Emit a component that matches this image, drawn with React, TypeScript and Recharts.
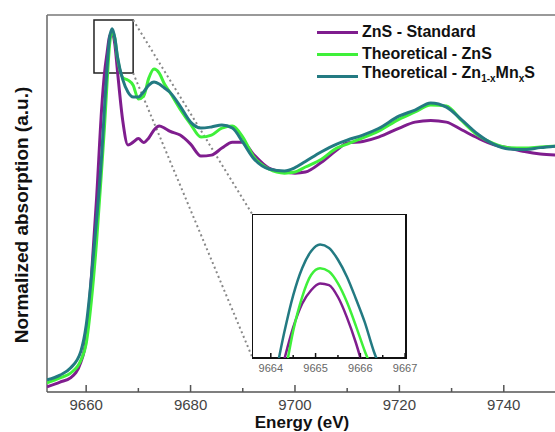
import { LineChart, Line, XAxis, YAxis, ReferenceLine, ReferenceArea } from "recharts"

// main spectrum (energy in eV, normalized absorption)
const energy = [
  9652.5, 9655, 9657, 9659, 9660, 9661, 9662, 9663, 9663.5, 9664, 9664.5, 9665, 9665.5, 9666,
  9667, 9668, 9669, 9670, 9671, 9672, 9673, 9674, 9675, 9676, 9678, 9680, 9682, 9684, 9686,
  9688, 9690, 9692, 9695, 9698, 9700, 9702, 9705, 9708, 9710, 9713, 9716, 9720, 9723, 9726,
  9729, 9732, 9735, 9738, 9741, 9744, 9747, 9750,
]
const znsStandard = [
  0.023, 0.045, 0.064, 0.136, 0.24, 0.522, 0.882, 1.299, 1.446, 1.54, 1.618, 1.632, 1.58, 1.459,
  1.235, 1.123, 1.136, 1.152, 1.134, 1.155, 1.191, 1.209, 1.2, 1.186, 1.168, 1.127, 1.073, 1.077,
  1.109, 1.136, 1.136, 1.082, 1.018, 1.0, 0.995, 1.0, 1.043, 1.1, 1.132, 1.139, 1.159, 1.2,
  1.227, 1.234, 1.227, 1.191, 1.155, 1.125, 1.109, 1.093, 1.082, 1.077,
]
const theoreticalZnS = [
  0.041, 0.064, 0.086, 0.145, 0.219, 0.414, 0.685, 1.023, 1.202, 1.404, 1.582, 1.639, 1.607, 1.52,
  1.43, 1.418, 1.395, 1.332, 1.345, 1.427, 1.468, 1.45, 1.4, 1.364, 1.286, 1.218, 1.159, 1.168,
  1.2, 1.209, 1.159, 1.073, 1.014, 0.995, 1.0, 1.023, 1.057, 1.109, 1.127, 1.155, 1.186, 1.241,
  1.273, 1.305, 1.3, 1.232, 1.168, 1.13, 1.111, 1.109, 1.114, 1.118,
]
const theoreticalZnMnS = [
  0.055, 0.077, 0.109, 0.186, 0.302, 0.52, 0.783, 1.088, 1.289, 1.474, 1.614, 1.652, 1.609, 1.524,
  1.421, 1.364, 1.341, 1.341, 1.364, 1.395, 1.409, 1.4, 1.382, 1.364, 1.3, 1.227, 1.2, 1.205,
  1.214, 1.2, 1.136, 1.064, 1.014, 1.005, 1.02, 1.048, 1.091, 1.127, 1.145, 1.168, 1.198, 1.255,
  1.282, 1.314, 1.295, 1.236, 1.173, 1.127, 1.105, 1.102, 1.111, 1.118,
]
const mainTicks = [9660, 9670, 9680, 9690, 9700, 9710, 9720, 9730, 9740]

// zoom on the white line peak
const insetEnergy = [
  9664.1, 9664.3, 9664.5, 9664.7, 9664.9, 9665.1, 9665.3, 9665.5, 9665.7, 9665.9, 9666.1, 9666.3, 9666.5,
]
const insetStandard = [1.561, 1.582, 1.601, 1.615, 1.623, 1.627, 1.626, 1.619, 1.607, 1.592, 1.574, 1.555, 1.535]
const insetZnS = [1.543, 1.571, 1.599, 1.619, 1.632, 1.636, 1.634, 1.627, 1.616, 1.602, 1.587, 1.574, 1.558]
const insetZnMnS = [1.572, 1.598, 1.62, 1.636, 1.646, 1.65, 1.648, 1.641, 1.631, 1.618, 1.604, 1.587, 1.574]
const insetTicks = [9664, 9664.5, 9665, 9665.5, 9666, 9666.5, 9667]

const X_MIN = 9652.5
const X_MAX = 9750
const Y_MAX = 1.714
const IN_X = [9663.58, 9667.02]
const IN_Y = [1.583, 1.668]

const PURPLE = "#7f1d8e"
const GREEN = "#3ff03a"
const TEAL = "#237a82"
const FONT = "'Liberation Sans', Arial, sans-serif"

const mainData = energy.map((e, i) => ({
  energy: e,
  standard: znsStandard[i],
  zns: theoreticalZnS[i],
  znmns: theoreticalZnMnS[i],
}))

const insetData = insetEnergy.map((e, i) => ({
  energy: e,
  standard: insetStandard[i],
  zns: insetZnS[i],
  znmns: insetZnMnS[i],
}))

function MainTick(props: any) {
  const { x, y, payload } = props
  const major = payload.value % 20 === 0
  return (
    <g>
      <line x1={x} x2={x} y1={y} y2={y - (major ? 7 : 4)} stroke="#555" strokeWidth={1.5} />
      {major && (
        <text x={x} y={y + 18} textAnchor="middle" fontSize={15} fill="#444" fontFamily={FONT}>
          {payload.value}
        </text>
      )}
    </g>
  )
}

function InsetTick(props: any) {
  const { x, y, payload } = props
  const major = Number.isInteger(payload.value)
  return (
    <g>
      <line x1={x} x2={x} y1={y} y2={y - (major ? 5 : 3)} stroke="#111" strokeWidth={1.5} />
      {major && (
        <text x={x} y={y + 14} textAnchor="middle" fontSize={11} fill="#666" fontFamily={FONT}>
          {payload.value}
        </text>
      )}
    </g>
  )
}

const legendRows = [
  { color: PURPLE, label: <>ZnS - Standard</> },
  { color: GREEN, label: <>Theoretical - ZnS</> },
  {
    color: TEAL,
    label: (
      <>
        Theoretical - Zn<sub style={{ fontSize: 10 }}>1-x</sub>Mn<sub style={{ fontSize: 10 }}>x</sub>S
      </>
    ),
  },
]

export default function App() {
  return (
    <div
      style={{
        position: "absolute",
        left: 0,
        top: 0,
        width: 555,
        height: 432,
        overflow: "hidden",
        background: "#fff",
        fontFamily: FONT,
      }}
    >
      <LineChart width={565} height={432} data={mainData} margin={{ top: 15, right: 9, bottom: 0, left: 47 }}>
        <XAxis
          dataKey="energy"
          type="number"
          domain={[X_MIN, X_MAX]}
          allowDataOverflow
          ticks={mainTicks}
          interval={0}
          tick={MainTick}
          tickLine={false}
          tickSize={0}
          tickMargin={0}
          height={40}
          axisLine={{ stroke: "#555", strokeWidth: 1.5 }}
        />
        <YAxis hide domain={[0, Y_MAX]} allowDataOverflow />
        <ReferenceLine x={X_MIN} stroke="#666" strokeWidth={1.5} />
        <ReferenceLine y={Y_MAX} stroke="#777" strokeWidth={1.5} />
        <ReferenceLine
          segment={[{ x: 9669, y: 1.691 }, { x: 9691.8, y: 0.809 }]}
          stroke="#888"
          strokeWidth={2}
          strokeDasharray="2 3"
        />
        <ReferenceLine
          segment={[{ x: 9669, y: 1.45 }, { x: 9691.8, y: 0.159 }]}
          stroke="#888"
          strokeWidth={2}
          strokeDasharray="2 3"
        />
        <Line type="monotone" dataKey="standard" stroke={PURPLE} strokeWidth={3} dot={false} isAnimationActive={false} />
        <Line type="monotone" dataKey="zns" stroke={GREEN} strokeWidth={3} dot={false} isAnimationActive={false} />
        <Line type="monotone" dataKey="znmns" stroke={TEAL} strokeWidth={3} dot={false} isAnimationActive={false} />
        <ReferenceArea x1={9661.5} x2={9669} y1={1.45} y2={1.691} fill="none" stroke="#222" strokeWidth={1.5} />
      </LineChart>

      <div style={{ position: "absolute", left: 252, top: 214, width: 154, height: 144, background: "#fff" }} />
      <div style={{ position: "absolute", left: 252, top: 214 }}>
        <LineChart width={172} height={164} data={insetData} margin={{ top: 0, right: 18, bottom: 0, left: 0 }}>
          <XAxis
            dataKey="energy"
            type="number"
            domain={IN_X}
            allowDataOverflow
            ticks={insetTicks}
            interval={0}
            tick={InsetTick}
            tickLine={false}
            tickSize={0}
            tickMargin={0}
            height={20}
            axisLine={false}
          />
          <YAxis hide domain={IN_Y} allowDataOverflow />
          <Line type="monotone" dataKey="standard" stroke={PURPLE} strokeWidth={2.5} dot={false} isAnimationActive={false} />
          <Line type="monotone" dataKey="zns" stroke={GREEN} strokeWidth={2.5} dot={false} isAnimationActive={false} />
          <Line type="monotone" dataKey="znmns" stroke={TEAL} strokeWidth={2.5} dot={false} isAnimationActive={false} />
          <ReferenceArea x1={IN_X[0]} x2={IN_X[1]} y1={IN_Y[0]} y2={IN_Y[1]} fill="none" stroke="#111" strokeWidth={2} />
        </LineChart>
      </div>

      <div style={{ position: "absolute", left: 317, top: 21 }}>
        {legendRows.map((row, i) => (
          <div key={i} style={{ display: "flex", alignItems: "center", height: 22 }}>
            <div style={{ width: 41, height: 3, background: row.color, marginRight: 4 }} />
            <span style={{ fontSize: 16, fontWeight: 700, color: "#111", whiteSpace: "nowrap", lineHeight: "22px" }}>
              {row.label}
            </span>
          </div>
        ))}
      </div>

      <div
        style={{
          position: "absolute",
          left: 22 - 150,
          top: 215 - 12,
          width: 300,
          height: 24,
          lineHeight: "24px",
          textAlign: "center",
          transform: "rotate(-90deg)",
          fontSize: 19,
          fontWeight: 700,
          color: "#111",
        }}
      >
        Normalized absorption (a.u.)
      </div>
      <div
        style={{
          position: "absolute",
          left: 302 - 100,
          top: 414,
          width: 200,
          textAlign: "center",
          fontSize: 17,
          fontWeight: 700,
          color: "#111",
          lineHeight: "17px",
        }}
      >
        Energy (eV)
      </div>
    </div>
  )
}
